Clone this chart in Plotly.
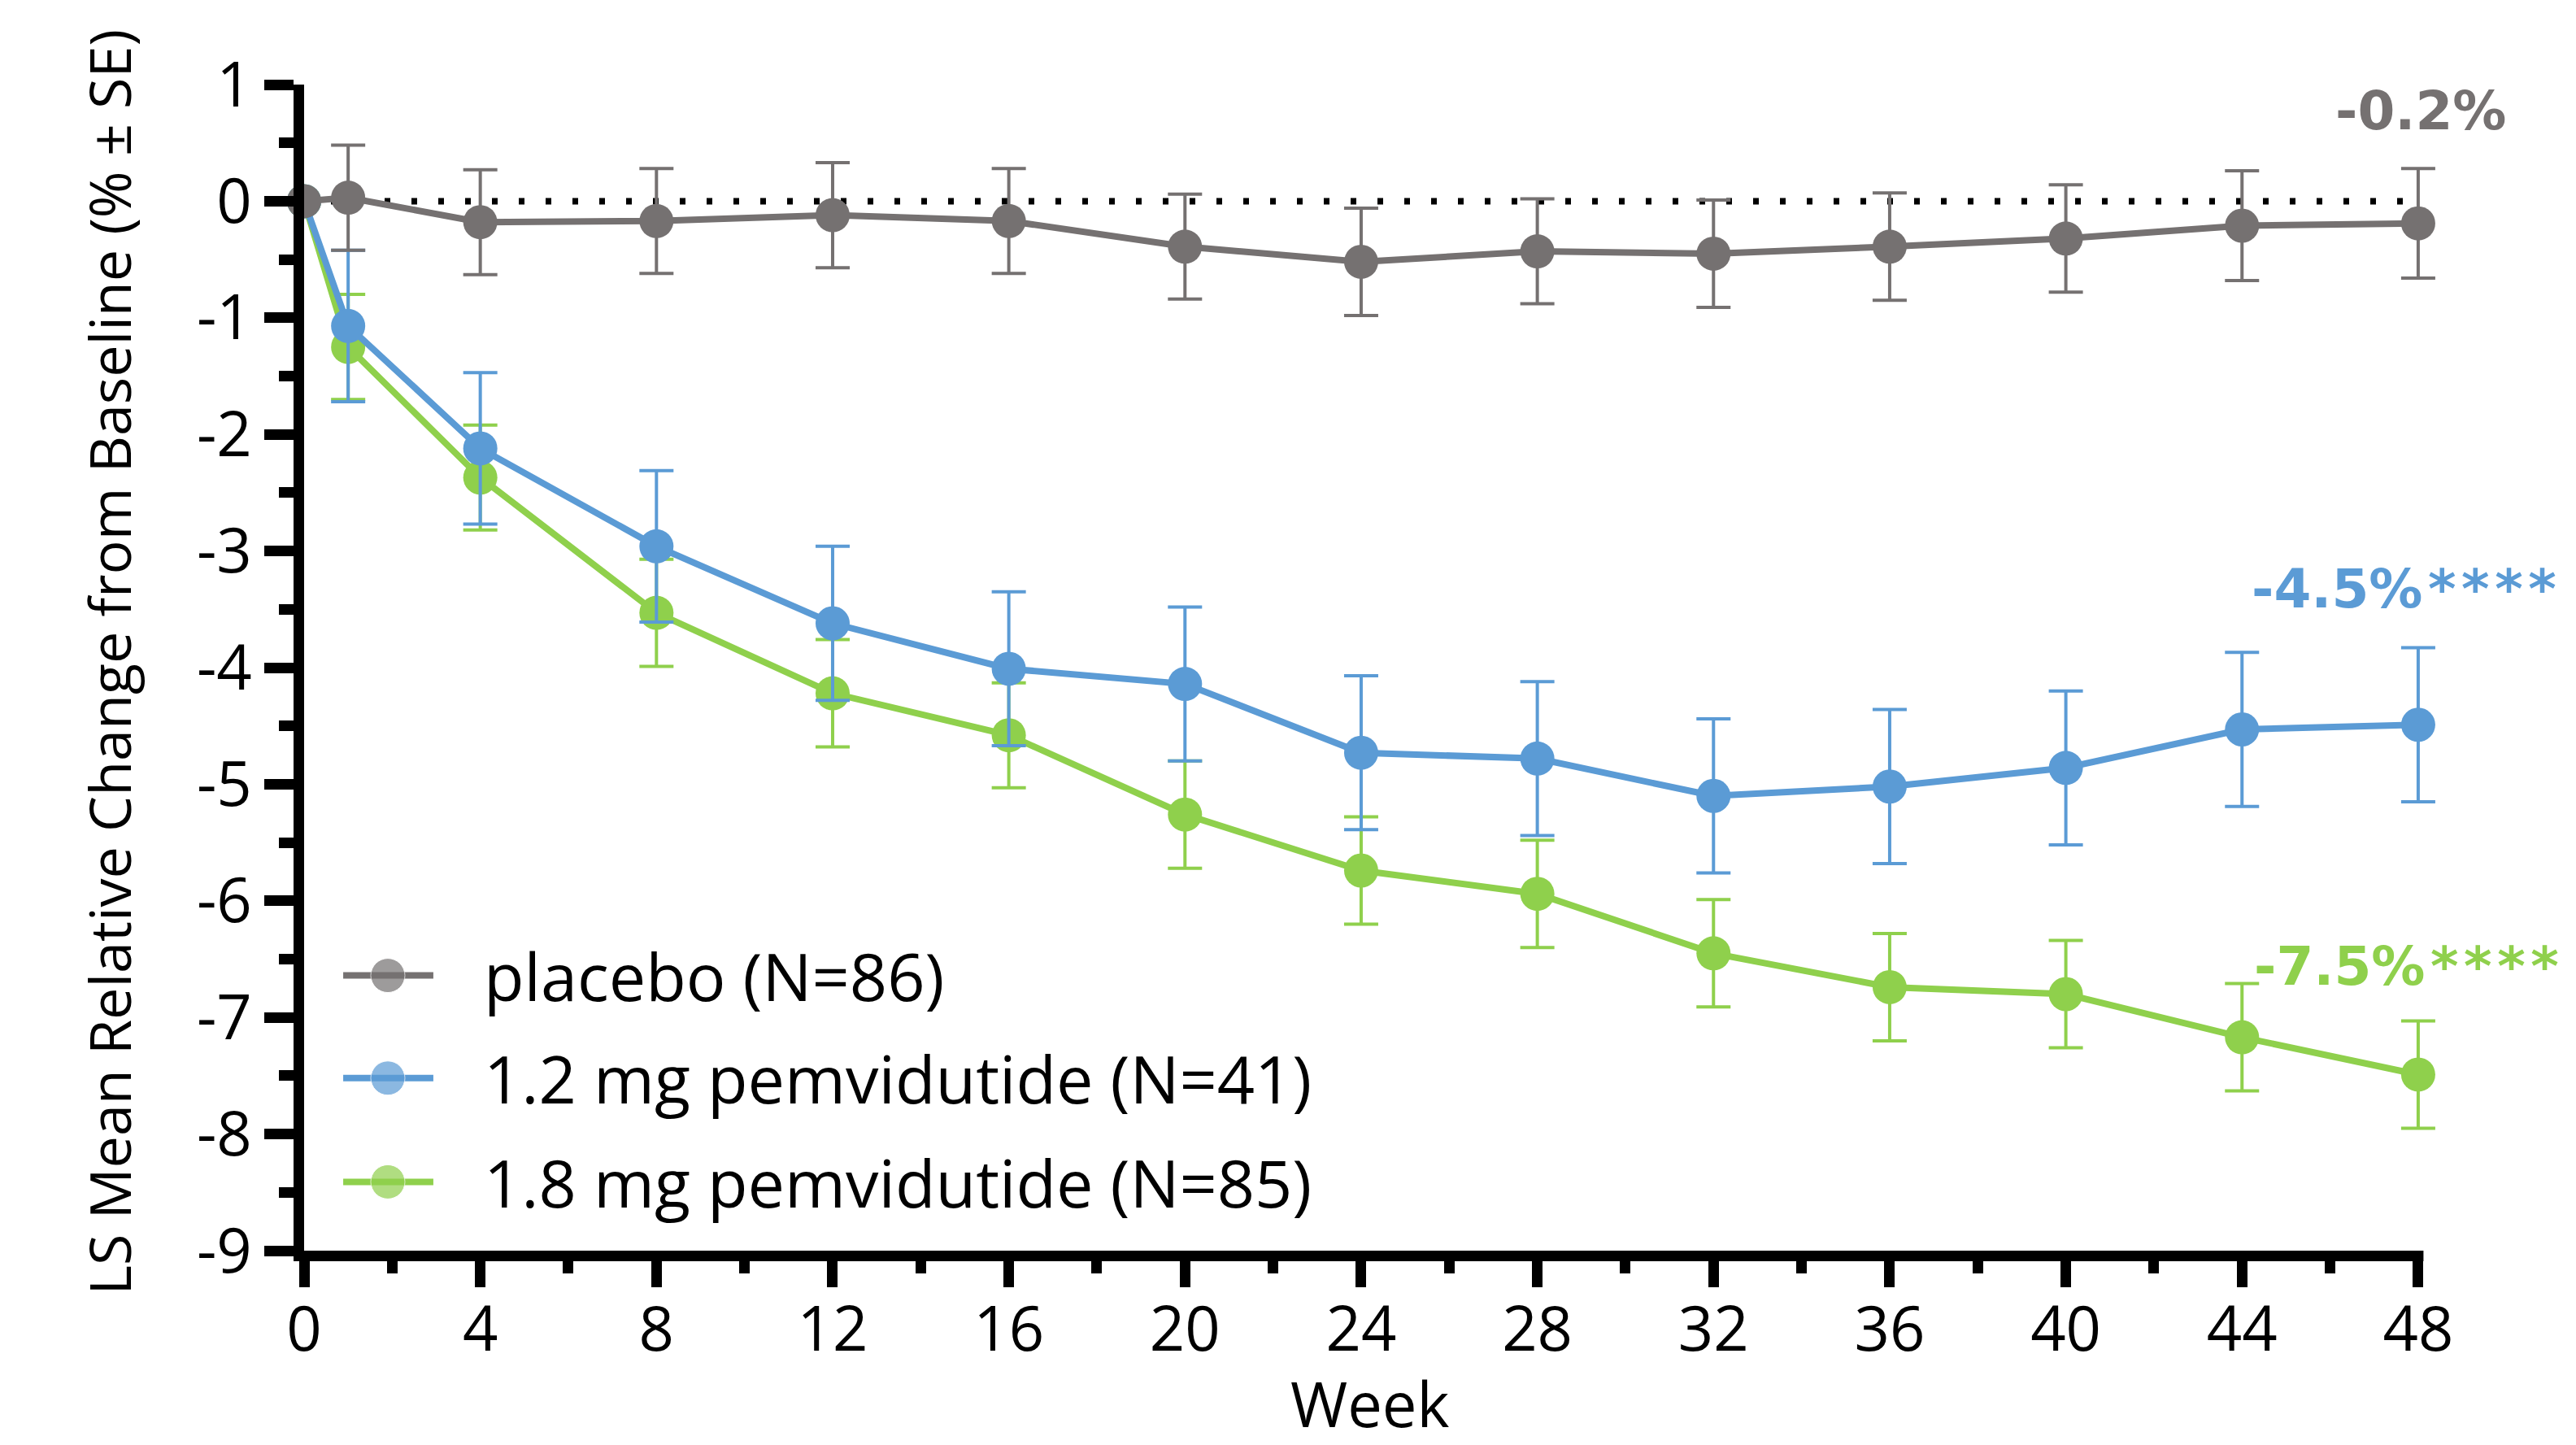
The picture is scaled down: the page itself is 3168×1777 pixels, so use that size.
import plotly.graph_objects as go

# ---------------- data ----------------
weeks = [0, 1, 4, 8, 12, 16, 20, 24, 28, 32, 36, 40, 44, 48]

placebo = [0.0, 0.03, -0.18, -0.17, -0.12, -0.17, -0.39, -0.52, -0.43, -0.45, -0.39, -0.32, -0.21, -0.19]
placebo_se = [None, 0.45, 0.45, 0.45, 0.45, 0.45, 0.45, 0.46, 0.45, 0.46, 0.46, 0.46, 0.47, 0.47]

dose12 = [0.0, -1.07, -2.12, -2.96, -3.62, -4.01, -4.14, -4.73, -4.78, -5.10, -5.02, -4.86, -4.53, -4.49]
dose12_se = [None, 0.65, 0.65, 0.65, 0.66, 0.66, 0.66, 0.66, 0.66, 0.66, 0.66, 0.66, 0.66, 0.66]

dose18 = [0.0, -1.25, -2.37, -3.53, -4.22, -4.58, -5.26, -5.74, -5.94, -6.45, -6.74, -6.80, -7.17, -7.49]
dose18_se = [None, 0.45, 0.45, 0.46, 0.46, 0.45, 0.46, 0.46, 0.46, 0.46, 0.46, 0.46, 0.46, 0.46]

series_names = ["placebo (N=86)", "1.2 mg pemvidutide (N=41)", "1.8 mg pemvidutide (N=85)"]
end_labels = ["-0.2%", "-4.5%\u200a*\u200a*\u200a*\u200a*", "-7.5%\u200a*\u200a*\u200a*\u200a*"]

x_tickvals = [0, 4, 8, 12, 16, 20, 24, 28, 32, 36, 40, 44, 48]
x_ticktext = ["0", "4", "8", "12", "16", "20", "24", "28", "32", "36", "40", "44", "48"]
y_tickvals = [1, 0, -1, -2, -3, -4, -5, -6, -7, -8, -9]
y_ticktext = ["1", "0", "-1", "-2", "-3", "-4", "-5", "-6", "-7", "-8", "-9"]

x_title = "Week"
y_title = "LS Mean Relative Change from Baseline (% \u00b1 SE)"

GRAY = "#757171"
BLUE = "#5B9BD5"
GREEN = "#8FD04C"

TXT_FONT = "Open Sans"

# ---------------- layout geometry ----------------
FIG_W, FIG_H = 3168, 1777
M_L, M_R, M_T, M_B = 366, 175, 96, 247
PLOT_W = FIG_W - M_L - M_R
PLOT_H = FIG_H - M_T - M_B
X_MAX = 48.5
AXIS_LW = 13

fig = go.Figure()

# draw order: green, blue, gray (gray on top)
series = [
    (dose18, dose18_se, GREEN),
    (dose12, dose12_se, BLUE),
    (placebo, placebo_se, GRAY),
]
for vals, se, col in series:
    fig.add_trace(go.Scatter(
        x=weeks, y=vals, mode="lines+markers",
        line=dict(color=col, width=8),
        marker=dict(size=42, color=col),
        error_y=dict(type="data", array=se, visible=True, color=col, thickness=4, width=21),
        cliponaxis=False, showlegend=False, hoverinfo="skip",
    ))

# zero reference dotted line
fig.add_shape(type="line", xref="x", yref="y", x0=0, x1=48, y0=0, y1=0,
              line=dict(color="black", width=8, dash="7px,26px"), layer="below")

# x-axis baseline (ends at the last tick, week 48)
fig.add_shape(type="line", xref="paper", yref="paper",
              x0=-AXIS_LW / PLOT_W, x1=(48 / X_MAX) + (AXIS_LW / 2) / PLOT_W,
              y0=-(AXIS_LW / 2) / PLOT_H, y1=-(AXIS_LW / 2) / PLOT_H,
              line=dict(color="black", width=AXIS_LW), layer="above")

# custom legend drawn on an overlay axis (0..1 over the plot area)
legend_rows_y = [0.236, 0.148, 0.059]
legend_line_x = [0.0183, 0.0392, 0.0605]
legend_text_x = 0.0834
legend_cols = [GRAY, BLUE, GREEN]
for name, ry, col in zip(series_names, legend_rows_y, legend_cols):
    fig.add_trace(go.Scatter(
        x=legend_line_x, y=[ry] * 3, mode="lines+markers",
        line=dict(color=col, width=8),
        marker=dict(size=[0, 42, 0], color=col),
        xaxis="x2", yaxis="y2", cliponaxis=False, showlegend=False, hoverinfo="skip",
    ))
    fig.add_annotation(x=legend_text_x, y=ry, xref="x2", yref="y2", text=name,
                       showarrow=False, xanchor="left", yanchor="middle",
                       font=dict(family=TXT_FONT, size=81, color="black"))

# end-of-study labels
end_pos = [(46.08, 0.77), (44.18, -3.33), (44.23, -6.56)]
for txt, (ax_, ay_), col in zip(end_labels, end_pos, [GRAY, BLUE, GREEN]):
    fig.add_annotation(x=ax_, y=ay_, xref="x", yref="y", text=txt, showarrow=False,
                       xanchor="left", yanchor="middle",
                       font=dict(family="DejaVu Sans", size=66, color=col, weight="bold"))

# axis titles as annotations
fig.add_annotation(x=-0.0915, y=0.505, xref="paper", yref="paper", text=y_title,
                   textangle=-90, showarrow=False, xanchor="center", yanchor="middle",
                   font=dict(family=TXT_FONT, size=70, color="black"))
fig.add_annotation(x=0.499, y=-0.131, xref="paper", yref="paper", text=x_title,
                   showarrow=False, xanchor="center", yanchor="middle",
                   font=dict(family=TXT_FONT, size=76, color="black"))

fig.update_layout(
    width=FIG_W, height=FIG_H,
    margin=dict(l=M_L, r=M_R, t=M_T, b=M_B),
    plot_bgcolor="white", paper_bgcolor="white",
    showlegend=False,
    xaxis=dict(
        range=[0, X_MAX], tickvals=x_tickvals, ticktext=x_ticktext,
        showline=False,
        ticks="outside", ticklen=44, tickwidth=13, tickcolor="black",
        ticklabelstandoff=-13,
        showgrid=False, zeroline=False,
        tickfont=dict(family=TXT_FONT, size=76, color="black"),
        minor=dict(dtick=2, tick0=0, ticks="outside", ticklen=27, tickwidth=13,
                   tickcolor="black", showgrid=False),
    ),
    yaxis=dict(
        range=[-9, 1], tickvals=y_tickvals, ticktext=y_ticktext,
        showline=True, linecolor="black", linewidth=AXIS_LW,
        ticks="outside", ticklen=36, tickwidth=13, tickcolor="black",
        showgrid=False, zeroline=False,
        tickfont=dict(family=TXT_FONT, size=76, color="black"),
        minor=dict(dtick=0.5, tick0=0, ticks="outside", ticklen=18, tickwidth=13,
                   tickcolor="black", showgrid=False),
    ),
    xaxis2=dict(overlaying="x", anchor="y2", range=[0, 1], visible=False),
    yaxis2=dict(overlaying="y", anchor="x2", range=[0, 1], visible=False),
)

fig.write_html("out.html")
